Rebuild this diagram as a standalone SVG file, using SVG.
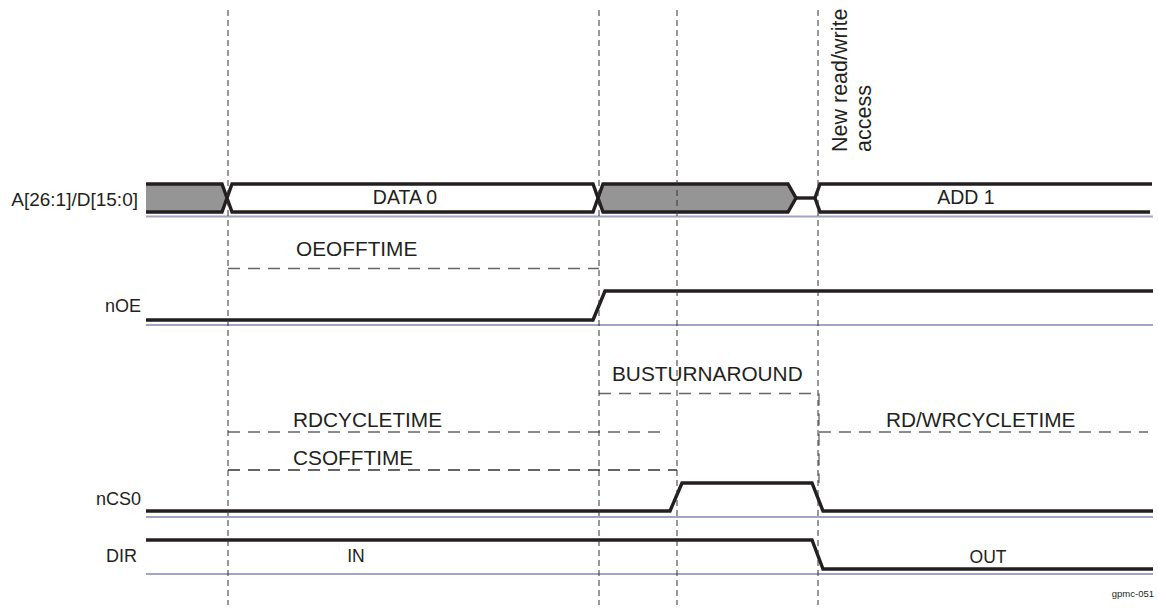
<svg xmlns="http://www.w3.org/2000/svg" width="1158" height="610" viewBox="0 0 1158 610">
<style>
text{font-family:"Liberation Sans",Arial,sans-serif;fill:#231f20}
.lbl{font-size:18px;text-anchor:end}
.t{font-size:20.8px}
.bus{font-size:19.5px;text-anchor:middle}
.sig{fill:none;stroke:#231f20;stroke-width:3.4;stroke-linejoin:miter}
.base{fill:none;stroke:#a3a3c4;stroke-width:2}
.vd{fill:none;stroke:#333;stroke-width:1;stroke-dasharray:6 4}
.td{fill:none;stroke:#666;stroke-width:1.3;stroke-dasharray:12 8}
.tdk{fill:none;stroke:#333;stroke-width:1.3;stroke-dasharray:12 8}
.gray{fill:#959595;stroke:#231f20;stroke-width:3.4}
.white{fill:#fff;stroke:#231f20;stroke-width:3.4}
</style>
<rect width="1158" height="610" fill="#fff"/>
<g id="timing-annotations">
<path class="td" d="M228,268.5 H599"/>
<text class="t" x="296" y="256">OEOFFTIME</text>
<path class="td" d="M599,393.5 H819 V483"/>
<text class="t" x="612" y="381">BUSTURNAROUND</text>
<path class="td" d="M228,432 H664"/>
<text class="t" x="293" y="427">RDCYCLETIME</text>
<path class="tdk" d="M228,470 H677"/>
<text class="t" x="293" y="465">CSOFFTIME</text>
<path class="td" d="M819,432 H1148"/>
<text class="t" x="886" y="427">RD/WRCYCLETIME</text>
</g>
<g id="bus">
<text class="lbl" x="138" y="206" style="font-size:19px">A[26:1]/D[15:0]</text>
<path class="base" d="M146,216.5 H1153"/>
<path class="gray" d="M146,184 H222 L227,198 L222,212 H146"/>
<path class="white" d="M227,198 L232,184 H593 L598,198 L593,212 H232 Z"/>
<path class="gray" d="M598,198 L603,184 H788 L796,198 L788,212 H603 Z"/>
<path class="sig" d="M796,198 H815"/>
<path class="white" d="M1152,184 H820 L815,198 L820,212 H1150"/>
<text class="bus" x="405" y="204">DATA 0</text>
<text class="bus" x="966" y="204">ADD 1</text>
</g>
<g id="nOE">
<text class="lbl" x="141" y="312">nOE</text>
<path class="base" d="M146,325 H1153"/>
<path class="sig" d="M146,320 H593 L605,291 H1153"/>
</g>
<g id="nCS0">
<text class="lbl" x="141" y="505">nCS0</text>
<path class="base" d="M146,517 H1153"/>
<path class="sig" d="M146,511 H670 L682,483 H812 L823,511 H1153"/>
</g>
<g id="DIR">
<text class="lbl" x="137" y="562">DIR</text>
<path class="base" d="M146,574 H1153"/>
<path class="sig" d="M146,540 H812 L823,569 H1153"/>
<text class="bus" x="356" y="562" style="font-size:17.5px">IN</text>
<text class="bus" x="988" y="563" style="font-size:17.5px">OUT</text>
</g>
<g id="markers">
<path class="vd" d="M228,10 V605 M599,10 V605 M677,10 V605 M818,10 V605"/>
<text class="t" transform="rotate(-90 846.5 152)" x="846.5" y="152" style="font-size:21.5px">New read/write</text>
<text class="t" transform="rotate(-90 871 152)" x="871" y="152" style="font-size:21.5px">access</text>
</g>
<text x="1154" y="597" style="font-size:9.5px;text-anchor:end">gpmc-051</text>
</svg>
